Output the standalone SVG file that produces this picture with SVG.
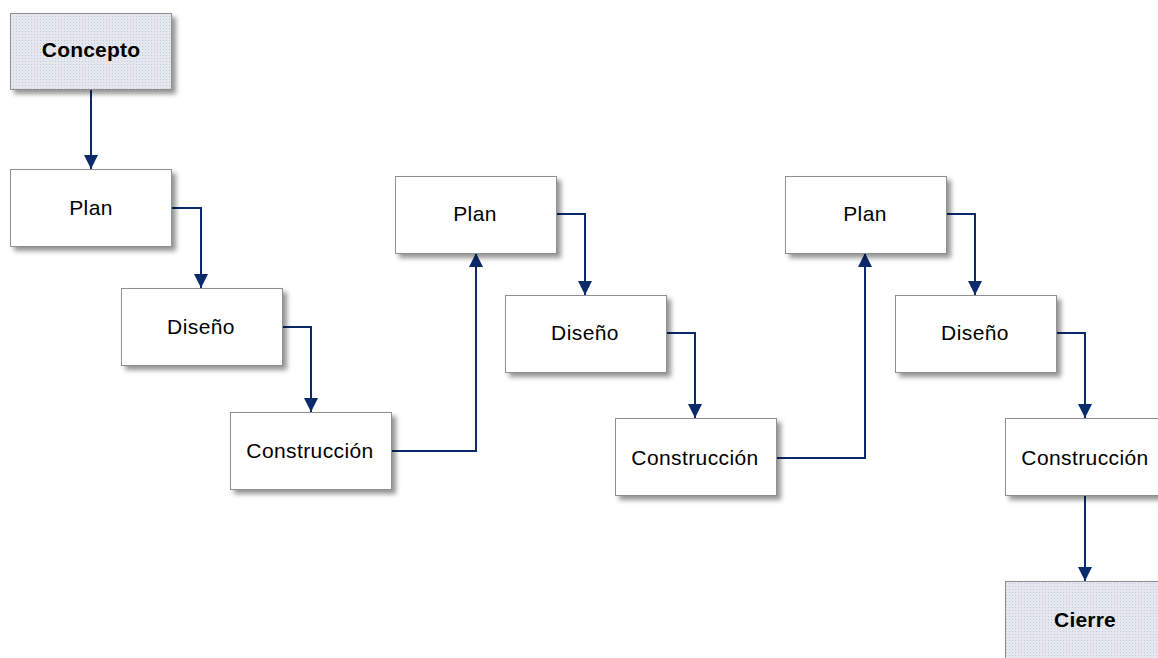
<svg xmlns="http://www.w3.org/2000/svg" width="1158" height="658" viewBox="0 0 1158 658">
  <defs>
    <filter id="shadow" x="-10%" y="-10%" width="130%" height="140%">
      <feDropShadow dx="4" dy="4" stdDeviation="2.4" flood-color="#000" flood-opacity="0.42"/>
    </filter>
    <pattern id="dots" width="3" height="3" patternUnits="userSpaceOnUse">
      <rect width="3" height="3" fill="#e4e7ee"/>
      <rect x="1" y="1" width="1" height="1" fill="#c4c9d8"/>
    </pattern>
    <marker id="arrow" viewBox="0 0 14 14" refX="14" refY="7" markerWidth="14" markerHeight="14" markerUnits="userSpaceOnUse" orient="auto">
      <path d="M0,0 L14,7 L0,14 Z" fill="#0b2a6b"/>
    </marker>
    <style>
      .box { fill: #ffffff; stroke: #8f8f8f; stroke-width: 1; filter: url(#shadow); }
      .term { fill: url(#dots); stroke: #8f8f8f; stroke-width: 1; filter: url(#shadow); }
      .lbl { font-family: "Liberation Sans", Arial, sans-serif; font-size: 21px; letter-spacing: 0.4px; fill: #000; text-anchor: middle; }
      .bold { font-weight: bold; letter-spacing: 0.2px; }
      .conn { fill: none; stroke: #0b2a6b; stroke-width: 2; marker-end: url(#arrow); }
    </style>
  </defs>

  <rect width="1158" height="658" fill="#ffffff"/>

  <!-- connectors -->
  <g id="connectors">
    <path class="conn" d="M91,90 V169"/>
    <path class="conn" d="M172,208 H201 V288"/>
    <path class="conn" d="M282,327 H311 V412"/>
    <path class="conn" d="M391,451 H476 V253"/>
    <path class="conn" d="M556,214 H585 V295"/>
    <path class="conn" d="M666,333 H695 V418"/>
    <path class="conn" d="M776,458 H865 V253"/>
    <path class="conn" d="M946,214 H975 V295"/>
    <path class="conn" d="M1056,333 H1085 V418"/>
    <path class="conn" d="M1085,496 V581"/>
  </g>

  <g id="concepto">
    <rect class="term" x="10.5" y="13.5" width="161" height="76"/>
    <text class="lbl bold" x="91" y="57">Concepto</text>
  </g>

  <g id="plan-1">
    <rect class="box" x="10.5" y="169.5" width="161" height="77"/>
    <text class="lbl" x="91" y="215">Plan</text>
  </g>
  <g id="diseno-1">
    <rect class="box" x="121.5" y="288.5" width="161" height="77"/>
    <text class="lbl" x="201" y="334">Diseño</text>
  </g>
  <g id="construccion-1">
    <rect class="box" x="230.5" y="412.5" width="161" height="77"/>
    <text class="lbl" x="310" y="458">Construcción</text>
  </g>

  <g id="plan-2">
    <rect class="box" x="395.5" y="176.5" width="161" height="77"/>
    <text class="lbl" x="475" y="221">Plan</text>
  </g>
  <g id="diseno-2">
    <rect class="box" x="505.5" y="295.5" width="161" height="77"/>
    <text class="lbl" x="585" y="340">Diseño</text>
  </g>
  <g id="construccion-2">
    <rect class="box" x="615.5" y="418.5" width="161" height="77"/>
    <text class="lbl" x="695" y="465">Construcción</text>
  </g>

  <g id="plan-3">
    <rect class="box" x="785.5" y="176.5" width="161" height="77"/>
    <text class="lbl" x="865" y="221">Plan</text>
  </g>
  <g id="diseno-3">
    <rect class="box" x="895.5" y="295.5" width="161" height="77"/>
    <text class="lbl" x="975" y="340">Diseño</text>
  </g>
  <g id="construccion-3">
    <rect class="box" x="1005.5" y="418.5" width="161" height="77"/>
    <text class="lbl" x="1085" y="465">Construcción</text>
  </g>

  <g id="cierre">
    <rect class="term" x="1005.5" y="581.5" width="161" height="77"/>
    <text class="lbl bold" x="1085" y="627">Cierre</text>
  </g>
</svg>
